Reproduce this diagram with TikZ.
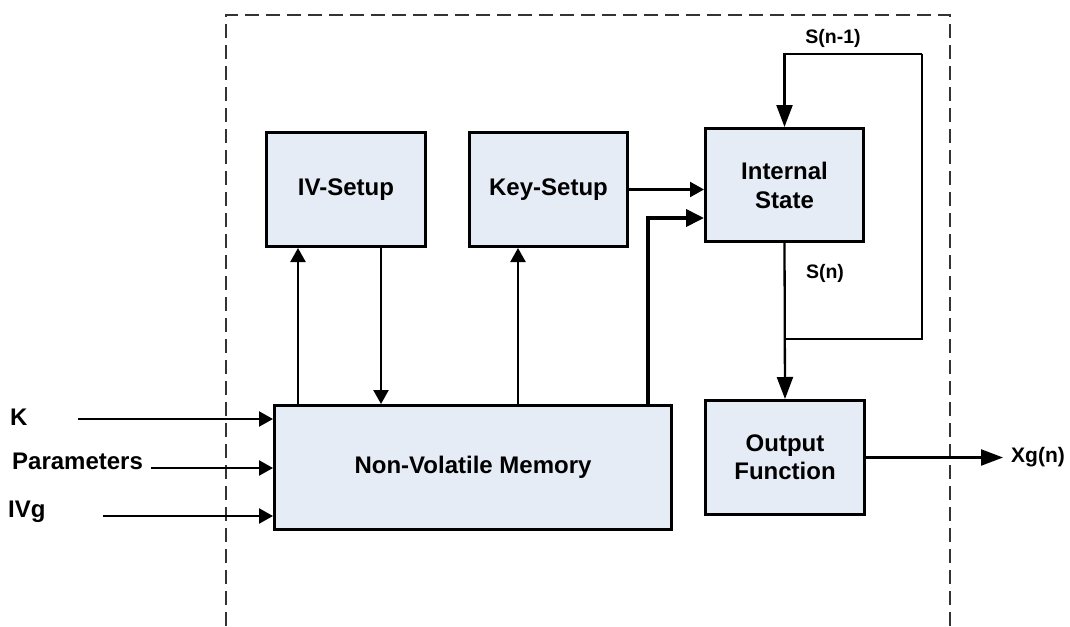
\documentclass[tikz,border=0pt]{standalone}
\usepackage{fontspec}
\setmainfont{Liberation Sans}
\usetikzlibrary{arrows.meta}
\definecolor{boxfill}{RGB}{230,236,246}
\tikzset{
  blk/.style={draw=black, line width=3pt, fill=boxfill, align=center, inner sep=0pt,
    font=\fontsize{24}{27}\selectfont\bfseries},
  arr/.style={line width=2.3pt, -{Triangle[length=14pt,width=15pt]}},
  bigarr/.style={line width=2.3pt, -{Triangle[length=22pt,width=16pt]}},
  lbl/.style={inner sep=0pt, font=\fontsize{24}{27}\selectfont\bfseries},
  slbl/.style={inner sep=0pt, font=\fontsize{19.5}{23}\selectfont\bfseries},
  frame/.style={line width=1.8pt, dash pattern=on 14pt off 7pt, color=black!80}
}
\begin{document}
\begin{tikzpicture}[x=1pt,y=-1pt]
\useasboundingbox (0,0) rectangle (1070,626);
% dashed frame (open at bottom)
\coordinate (fbl) at (226,626);
\coordinate (ftl) at (226,15);
\coordinate (ftr) at (950,15);
\coordinate (fbr) at (950,626);
\draw[frame] (fbl) -- (ftl) -- (ftr) -- (fbr);
% blocks
\node[blk, minimum width=159pt, minimum height=114pt] (iv) at (346,189.5) {IV-Setup};
\node[blk, minimum width=158pt, minimum height=114pt] (key) at (548.5,189.5) {Key-Setup};
\node[blk, minimum width=158pt, minimum height=113pt] (is) at (784.5,185) {Internal\\[2pt]State};
\node[blk, minimum width=159pt, minimum height=114pt] (of) at (785,457.5) {Output\\[1pt]Function};
\node[blk, minimum width=397pt, minimum height=124pt] (nvm) at (473,467.5) {Non-Volatile Memory};
% inputs
\node[lbl, anchor=west] (lk) at (10,417) {K};
\node[lbl, anchor=west] (lp) at (12,461) {Parameters};
\node[lbl, anchor=west] (liv) at (8,512) {IVg};
\coordinate (kin) at (78,419);
\coordinate (pin) at (151,468);
\coordinate (vin) at (103,516);
\draw[arr] (kin) -- (kin -| nvm.west);
\draw[arr] (pin) -- (pin -| nvm.west);
\draw[arr] (vin) -- (vin -| nvm.west);
% NVM <-> setups
\draw[arr] ([xshift=-48pt]iv.south |- nvm.north) -- ([xshift=-48pt]iv.south);
\draw[arr] ([xshift=35pt]iv.south) -- ([xshift=35pt]iv.south |- nvm.north);
\draw[arr] ([xshift=-30.5pt]key.south |- nvm.north) -- ([xshift=-30.5pt]key.south);
\draw[line width=3.8pt, -{Triangle[length=18pt,width=17pt]}] ([xshift=175pt]nvm.north) |- ([yshift=-33pt]is.west);
\draw[arr] (key.east) -- (key.east -| is.west);
% state loop
\coordinate (br) at (784.5,339);
\coordinate (tr) at (922,54);
\draw[bigarr] (is.south) -- (of.north);
\draw[line width=2.3pt] (br) -| (tr);
\draw[bigarr] (tr) -| (is.north);
\node[slbl] (sn1) at (833,38) {S(n-1)};
\node[slbl] (sn) at (825,273) {S(n)};
% output
\coordinate (xout) at (1003,458);
\draw[bigarr] (of.east) -- (of.east -| xout);
\node[slbl, font=\fontsize{21}{24}\selectfont\bfseries, anchor=west] (xg) at (1011,457) {Xg(n)};
\end{tikzpicture}
\end{document}
